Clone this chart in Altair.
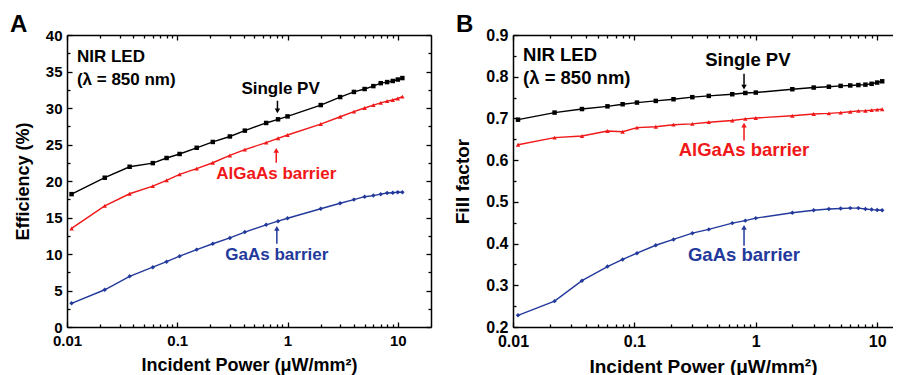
import altair as alt
import pandas as pd

FONT = "Liberation Sans"

power = [0.011, 0.022, 0.037, 0.06, 0.08, 0.105, 0.15, 0.21, 0.3, 0.41, 0.64, 0.82,
         1.0, 2, 3, 4, 5, 6, 7, 8, 9, 10, 11]

eff_single = [18.2, 20.45, 21.95, 22.45, 23.15, 23.7, 24.55, 25.35, 26.1, 26.9, 27.95, 28.45,
              28.85, 30.4, 31.5, 32.2, 32.6, 33.0, 33.4, 33.55, 33.7, 33.9, 34.1]
eff_algaas = [13.5, 16.6, 18.25, 19.3, 20.1, 20.9, 21.7, 22.5, 23.5, 24.3, 25.25, 25.85,
              26.3, 27.8, 28.8, 29.5, 30.0, 30.4, 30.7, 30.95, 31.1, 31.3, 31.55]
eff_gaas = [3.25, 5.1, 6.95, 8.2, 8.95, 9.7, 10.6, 11.4, 12.2, 13.0, 14.0, 14.5,
            14.9, 16.2, 16.95, 17.45, 17.85, 18.0, 18.2, 18.35, 18.4, 18.45, 18.45]

ff_single = [0.697, 0.714, 0.7225, 0.729, 0.734, 0.738, 0.742, 0.746, 0.751, 0.754, 0.758, 0.761,
             0.762, 0.770, 0.774, 0.776, 0.778, 0.779, 0.780, 0.781, 0.783, 0.786, 0.789]
ff_algaas = [0.637, 0.654, 0.658, 0.670, 0.668, 0.678, 0.680, 0.685, 0.687, 0.691, 0.695, 0.699,
             0.701, 0.7065, 0.7105, 0.712, 0.714, 0.716, 0.718, 0.7185, 0.720, 0.721, 0.722]
ff_gaas = [0.228, 0.262, 0.311, 0.345, 0.362, 0.377, 0.396, 0.41, 0.425, 0.434, 0.449, 0.455,
           0.461, 0.474, 0.48, 0.483, 0.484, 0.485, 0.485, 0.483, 0.4815, 0.4806, 0.48]

SERIES = ["Single PV", "AlGaAs barrier", "GaAs barrier"]
COLORS = ["#000000", "#f01818", "#23399b"]
SHAPES = ["square", "triangle-up", "diamond"]

x_major = [0.01, 0.1, 1, 10]
x_minor = [0.02, 0.03, 0.04, 0.05, 0.06, 0.07, 0.08, 0.09,
           0.2, 0.3, 0.4, 0.5, 0.6, 0.7, 0.8, 0.9,
           2, 3, 4, 5, 6, 7, 8, 9]

effA_major = [0, 5, 10, 15, 20, 25, 30, 35, 40]
effA_minor = [2.5, 7.5, 12.5, 17.5, 22.5, 27.5, 32.5, 37.5]
ffB_major = [0.2, 0.3, 0.4, 0.5, 0.6, 0.7, 0.8, 0.9]
ffB_minor = [0.25, 0.35, 0.45, 0.55, 0.65, 0.75, 0.85]

# annotations (data coordinates)
annA_left = pd.DataFrame({"x": [0.0123, 0.0123], "y": [36.3, 33.15],
                          "text": ["NIR LED", "(λ = 850 nm)"], "color": ["#000000", "#000000"]})
annA_center = pd.DataFrame({"x": [0.865, 0.79, 0.80], "y": [31.9, 20.3, 9.2],
                            "text": ["Single PV", "AlGaAs barrier", "GaAs barrier"],
                            "color": COLORS})
arrA = pd.DataFrame({"x": [0.81, 0.79, 0.80], "y1": [31.0, 22.5, 11.4], "y2": [29.6, 24.2, 13.5],
                     "head": ["triangle-down", "triangle-up", "triangle-up"], "color": COLORS})

annB_left = pd.DataFrame({"x": [0.0121, 0.0121], "y": [0.838, 0.783],
                          "text": ["NIR LED", "(λ = 850 nm)"], "color": ["#000000", "#000000"]})
annB_center = pd.DataFrame({"x": [0.86, 0.80, 0.80], "y": [0.826, 0.611, 0.359],
                            "text": ["Single PV", "AlGaAs barrier", "GaAs barrier"],
                            "color": COLORS})
arrB = pd.DataFrame({"x": [0.80, 0.80, 0.80], "y1": [0.807, 0.647, 0.395], "y2": [0.775, 0.684, 0.439],
                     "head": ["triangle-down", "triangle-up", "triangle-up"], "color": COLORS})


def long_df(ys):
    rows = []
    for name, vals in zip(SERIES, ys):
        for p, v in zip(power, vals):
            rows.append({"power": p, "value": v, "series": name})
    return pd.DataFrame(rows)


def tick_axis(orient, values, size, offset, domain=False):
    return alt.Axis(orient=orient, values=values, tickSize=size, offset=offset,
                    labels=False, domain=domain, domainColor="black", domainWidth=1.5,
                    ticks=size > 0, tickColor="black", tickWidth=1.3, grid=False, title=None)


def panel(df, xdom, ydom, width, height, y_major, y_minor, yfmt, ytitle,
          fs_tick, fs_title, fs_ann, ann_left, ann_center, arr, letter, right_side):
    xs = alt.Scale(type="log", domain=xdom, nice=False)
    ys = alt.Scale(domain=ydom, nice=False, zero=False)
    color = alt.Color("series:N", scale=alt.Scale(domain=SERIES, range=COLORS), legend=None)
    shape = alt.Shape("series:N", scale=alt.Scale(domain=SERIES, range=SHAPES), legend=None)

    main_x = alt.Axis(orient="bottom", values=x_major, format="~g", labelFont=FONT,
                      labelFontSize=fs_tick, labelFontWeight="bold", labelColor="black",
                      labelPadding=6, labelFlush=False, labelOverlap=False,
                      title="Incident Power (μW/mm²)", titleFont=FONT, titleFontSize=fs_title,
                      titleFontWeight="bold", titleColor="black", titlePadding=8,
                      ticks=False, domain=True, domainColor="black", domainWidth=1.5, grid=False)
    main_y = alt.Axis(orient="left", values=y_major, format=yfmt, labelFont=FONT,
                      labelFontSize=fs_tick, labelFontWeight="bold", labelColor="black",
                      labelPadding=5, labelFlush=False, labelOverlap=False,
                      title=ytitle, titleFont=FONT, titleFontSize=fs_title,
                      titleFontWeight="bold", titleColor="black", titlePadding=13,
                      ticks=False, domain=True, domainColor="black", domainWidth=1.5, grid=False)

    base = alt.Chart(df)
    lines = base.mark_line(strokeWidth=1.4).encode(
        x=alt.X("power:Q", scale=xs, axis=main_x),
        y=alt.Y("value:Q", scale=ys, axis=main_y),
        color=color)
    points = base.mark_point(filled=True, size=20, opacity=1).encode(
        x=alt.X("power:Q", scale=xs, axis=None),
        y=alt.Y("value:Q", scale=ys, axis=None),
        color=color, shape=shape)

    def ax_layer(xa, ya):
        return base.mark_point(opacity=0).encode(
            x=alt.X("power:Q", scale=xs, axis=xa),
            y=alt.Y("value:Q", scale=ys, axis=ya))

    layers = [lines, points,
              ax_layer(tick_axis("bottom", x_major, 5, -5), tick_axis("left", y_major, 5, -5)),
              ax_layer(tick_axis("bottom", x_minor, 3, -3), tick_axis("left", y_minor, 3, -3)),
              ax_layer(tick_axis("top", x_major, 0, 0, domain=True),
                       tick_axis("right", y_major, 0, 0, domain=True) if right_side else None),
              ax_layer(tick_axis("top", x_major, 5, -5),
                       tick_axis("right", y_major, 5, -5) if right_side else None),
              ax_layer(tick_axis("top", x_minor, 3, -3),
                       tick_axis("right", y_minor, 3, -3) if right_side else None)]

    txt_left = alt.Chart(ann_left).mark_text(font=FONT, fontWeight="bold", fontSize=fs_ann,
                                             align="left", baseline="alphabetic").encode(
        x=alt.X("x:Q", scale=xs, axis=None), y=alt.Y("y:Q", scale=ys, axis=None),
        text="text:N", color=alt.Color("color:N", scale=None))
    txt_center = alt.Chart(ann_center).mark_text(font=FONT, fontWeight="bold", fontSize=fs_ann,
                                                 align="center", baseline="alphabetic").encode(
        x=alt.X("x:Q", scale=xs, axis=None), y=alt.Y("y:Q", scale=ys, axis=None),
        text="text:N", color=alt.Color("color:N", scale=None))
    rules = alt.Chart(arr).mark_rule(strokeWidth=1.5).encode(
        x=alt.X("x:Q", scale=xs, axis=None), y=alt.Y("y1:Q", scale=ys, axis=None), y2="y2:Q",
        color=alt.Color("color:N", scale=None))
    heads = alt.Chart(arr).mark_point(filled=True, size=30, opacity=1).encode(
        x=alt.X("x:Q", scale=xs, axis=None), y=alt.Y("y2:Q", scale=ys, axis=None),
        shape=alt.Shape("head:N", scale=None), color=alt.Color("color:N", scale=None))
    lab = alt.Chart(pd.DataFrame({"t": [letter]})).mark_text(
        font=FONT, fontWeight="bold", fontSize=24, align="left", baseline="alphabetic",
        color="black").encode(x=alt.value(-57), y=alt.value(-3), text="t:N")

    layers += [txt_left, txt_center, rules, heads, lab]
    return alt.layer(*layers).resolve_axis(x="independent", y="independent").properties(
        width=width, height=height)


dfA = long_df([eff_single, eff_algaas, eff_gaas])
dfB = long_df([ff_single, ff_algaas, ff_gaas])

pA = panel(dfA, [0.01, 20], [0, 40], 364, 292, effA_major, effA_minor, "d", "Efficiency (%)",
           15, 18, 17, annA_left, annA_center, arrA, "A", True)
pB = panel(dfB, [0.01, 13.5], [0.2, 0.9], 380, 292, ffB_major, ffB_minor, ".1f", "Fill factor",
           16, 19, 18.5, annB_left, annB_center, arrB, "B", False)

chart = alt.hconcat(pA, pB, spacing=82, bounds="flush").configure_view(stroke=None).properties(
    padding={"left": 2, "top": 5, "right": 0, "bottom": 0})

chart.save("out.html", embed_options={"renderer": "svg", "actions": False})
